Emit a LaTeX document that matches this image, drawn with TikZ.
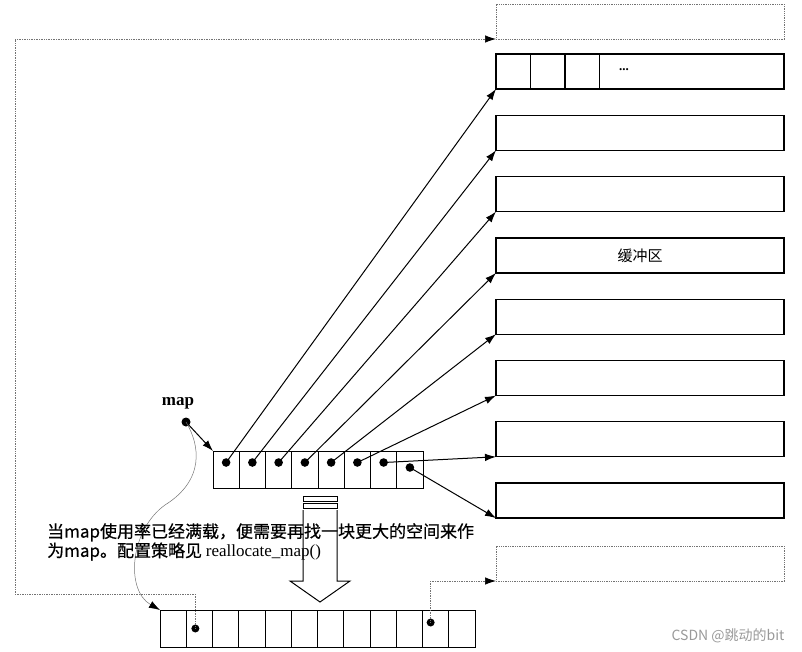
\documentclass[tikz,border=0pt]{standalone}
\usepackage{fontspec}
\setmainfont{Liberation Serif}
\newfontfamily\cjk{Noto Sans CJK SC}
\newfontfamily\cjkheavy[FakeBold=0.6]{Noto Sans CJK SC}
\usetikzlibrary{arrows.meta}
\tikzset{
  buffer/.style={draw, line width=1.3pt, minimum width=288pt, minimum height=35pt,
    inner sep=0pt, outer sep=0pt, anchor=north west},
  spare/.style={buffer, densely dotted, line width=0.7pt, draw=black!55},
  cell/.style={draw, line width=0.9pt, minimum width=26.25pt, minimum height=37pt,
    inner sep=0pt, outer sep=0pt, anchor=north west},
  ptr/.style={line width=1pt, -{Latex[length=11pt,width=7.5pt]}},
  link/.style={densely dotted, draw=black!55, line width=0.7pt,
    -{Latex[length=11pt,width=7.5pt,color=black]}},
}
\begin{document}
\begin{tikzpicture}[x=1pt,y=-1pt]
        \useasboundingbox (0,0) rectangle (802,652);
        %% buffers
        \node[spare] (bt) at (496,4) {};
        \foreach \k in {0,...,7}
            \node[buffer] (b\k) at (496,54+61.3*\k) {};
        \node[spare] (bb) at (496,546) {};
        \foreach \x in {1,2,3}
            \draw[line width=1.3pt] ([xshift={34.5pt*\x}]b0.north west) -- ([xshift={34.5pt*\x}]b0.south west);
        \node[font=\bfseries\fontsize{13}{13}\selectfont] (more) at ([xshift=128pt,yshift=2pt]b0.west) {...};
        \node[font=\cjk\fontsize{15}{15}\selectfont] (bufname) at (b3.center) {缓冲区};
        %% old map and its pointers
        \foreach \i in {1,...,8}
            \node[cell] (o\i) at (213+26.25*\i-26.25,451) {};
        \foreach \i in {1,...,7}
            \coordinate (d\i) at ([yshift=7pt]o\i.center);
        \coordinate (d8) at ([yshift=2pt]o8.center);
        \foreach \i [evaluate=\i as \k using int(\i-1)] in {1,...,8} {
            \fill (d\i) circle (4.3pt);
            \draw[ptr] (d\i) -- (b\k.south west);
        }
        \node[font=\bfseries\fontsize{17}{17}\selectfont] (maplabel) at (178,403) {map};
        \coordinate (mapdot) at (186,422);
        \fill (mapdot) circle (4.5pt);
        \draw[ptr] (mapdot) -- (o1.north west);
        %% new map
        \foreach \j in {1,...,12}
            \node[cell] (n\j) at (160+26.25*\j-26.25,610) {};
        \coordinate (e2) at ([xshift=-4pt]n2.center);
        \coordinate (e11) at ([xshift=-5pt,yshift=6pt]n11.center);
        \fill (e2) circle (4pt);
        \fill (e11) circle (4pt);
        \draw[line width=0.5pt, draw=black!55, -{Latex[length=11pt,width=7.5pt,color=black]}]
            (mapdot) .. controls (200,445) and (205,480) .. (165,505)
            .. controls (130,530) and (125,590) .. (n1.north west);
        \draw[link] (e2) |- (15,594) |- (bt.south west);
        \draw[link] (e11) |- (bb.south west);
        %% big hollow arrow
        \draw[line width=1pt] (303,496) rectangle (337,501);
        \draw[line width=1pt] (303,503) rectangle (337,508);
        \draw[line width=1pt] (303,510) -- (303,581) -- (290,581) -- (320,602)
            -- (350,581) -- (337,581) -- (337,510);
        \node[anchor=north west, align=left, inner sep=0pt, font=\cjkheavy\fontsize{17}{17.5}\selectfont] (note) at (47,523)
            {当map使用率已经满载，便需要再找一块更大的空间来作\\为map。配置策略见 {\rmfamily reallocate\_map()}};
        \node[anchor=base east, text=black!40, font=\cjk\fontsize{14}{14}\selectfont] (wm) at (788,640) {CSDN @跳动的bit};
    \end{tikzpicture}
\end{document}
